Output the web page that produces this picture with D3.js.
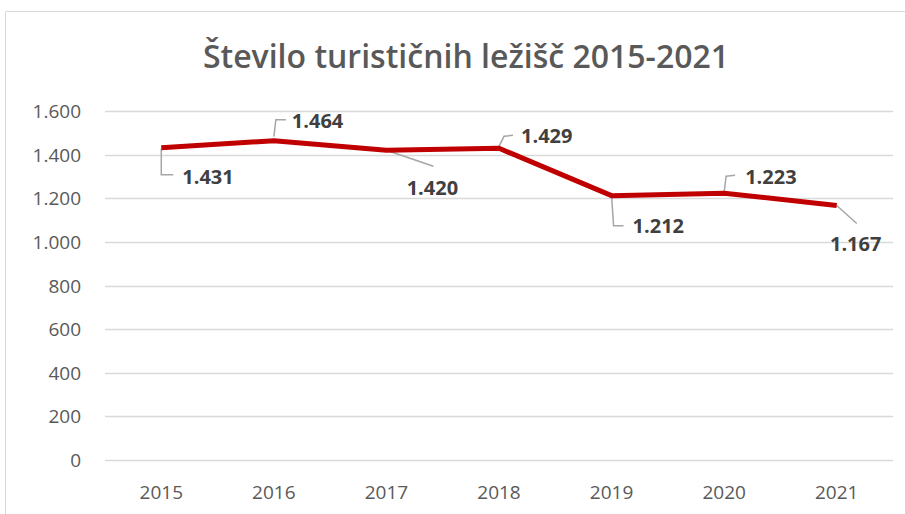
<!DOCTYPE html>
<html>
<head>
<meta charset="utf-8">
<script src="https://cdn.jsdelivr.net/npm/d3@7"></script>
<style>
  body { margin: 0; background: #fff; }
  svg { display: block; }
</style>
</head>
<body>
<svg width="905" height="514"></svg>
<script>
// data
var years = ["2015", "2016", "2017", "2018", "2019", "2020", "2021"];
var beds = [1431, 1464, 1420, 1429, 1212, 1223, 1167];
var labels = ["1.431", "1.464", "1.420", "1.429", "1.212", "1.223", "1.167"];
var yTicks = [0, 200, 400, 600, 800, 1000, 1200, 1400, 1600];
var yTickLabels = ["0", "200", "400", "600", "800", "1.000", "1.200", "1.400", "1.600"];

var svg = d3.select("svg");
var font = "'Open Sans', sans-serif";

// chart border (only top and left visible)
svg.append("path")
  .attr("d", "M5.5,514 L5.5,11.5 L905,11.5")
  .attr("fill", "none")
  .attr("stroke", "#d9d9d9")
  .attr("stroke-width", 1);

// title
svg.append("text")
  .attr("x", 466)
  .attr("y", 68)
  .attr("text-anchor", "middle")
  .style("font-family", font)
  .style("font-size", "32px")
  .style("font-weight", "600")
  .style("fill", "#595959")
  .text("Število turističnih ležišč 2015-2021");

// scales
var x = d3.scalePoint().domain(years).range([105, 893]).padding(0.5);
var y = d3.scaleLinear().domain([0, 1600]).range([460, 111]);

// gridlines
svg.append("g")
  .selectAll("line")
  .data(yTicks)
  .enter()
    .append("line")
    .attr("x1", 105)
    .attr("x2", 893)
    .attr("y1", function(d) { return Math.round(y(d)) + 0.5; })
    .attr("y2", function(d) { return Math.round(y(d)) + 0.5; })
    .attr("stroke", "#d9d9d9")
    .attr("stroke-width", 1.5);

// y labels
svg.append("g")
  .selectAll("text")
  .data(yTicks)
  .enter()
    .append("text")
    .attr("x", 81)
    .attr("y", function(d) { return y(d) + 7; })
    .attr("text-anchor", "end")
    .style("font-family", font)
    .style("font-size", "19px")
    .style("fill", "#595959")
    .text(function(d, i) { return yTickLabels[i]; });

// x labels
svg.append("g")
  .selectAll("text")
  .data(years)
  .enter()
    .append("text")
    .attr("x", function(d) { return x(d); })
    .attr("y", 499)
    .attr("text-anchor", "middle")
    .style("font-family", font)
    .style("font-size", "19px")
    .style("fill", "#595959")
    .text(function(d) { return d; });

// leader lines: offsets relative to the point, and label anchor
var leaders = [
  { pts: [[0, 1], [0, 27], [12, 27]], lx: 21, ly: 36, anchor: "start" },
  { pts: [[0, -4], [2, -21], [12, -21]], lx: 18, ly: -13, anchor: "start" },
  { pts: [[0, 0], [47, 16]], lx: 46, ly: 45, anchor: "middle" },
  { pts: [[0, -2], [5, -12], [14, -13]], lx: 22, ly: -5, anchor: "start" },
  { pts: [[0, 0], [2, 30], [12, 30]], lx: 21, ly: 37, anchor: "start" },
  { pts: [[0, -1], [2, -17], [11, -18]], lx: 21, ly: -9, anchor: "start" },
  { pts: [[0, 0], [20, 18]], lx: 19, ly: 46, anchor: "middle" }
];

svg.append("g")
  .selectAll("polyline")
  .data(beds)
  .enter()
    .append("polyline")
    .attr("points", function(d, i) {
      var px = x(years[i]), py = y(d);
      return leaders[i].pts.map(function(p) { return (px + p[0]) + "," + (py + p[1]); }).join(" ");
    })
    .attr("fill", "none")
    .attr("stroke", "#a6a6a6")
    .attr("stroke-width", 1.5);

// line
var line = d3.line()
  .x(function(d, i) { return x(years[i]); })
  .y(function(d) { return y(d); });

svg.append("path")
  .datum(beds)
  .attr("d", line)
  .attr("fill", "none")
  .attr("stroke", "#c00000")
  .attr("stroke-width", 5)
  .attr("stroke-linejoin", "round");

// data labels
svg.append("g")
  .selectAll("text")
  .data(beds)
  .enter()
    .append("text")
    .attr("x", function(d, i) { return x(years[i]) + leaders[i].lx; })
    .attr("y", function(d, i) { return y(d) + leaders[i].ly; })
    .attr("text-anchor", function(d, i) { return leaders[i].anchor; })
    .style("font-family", font)
    .style("font-size", "20px")
    .style("font-weight", "bold")
    .style("fill", "#404040")
    .text(function(d, i) { return labels[i]; });
</script>
</body>
</html>
